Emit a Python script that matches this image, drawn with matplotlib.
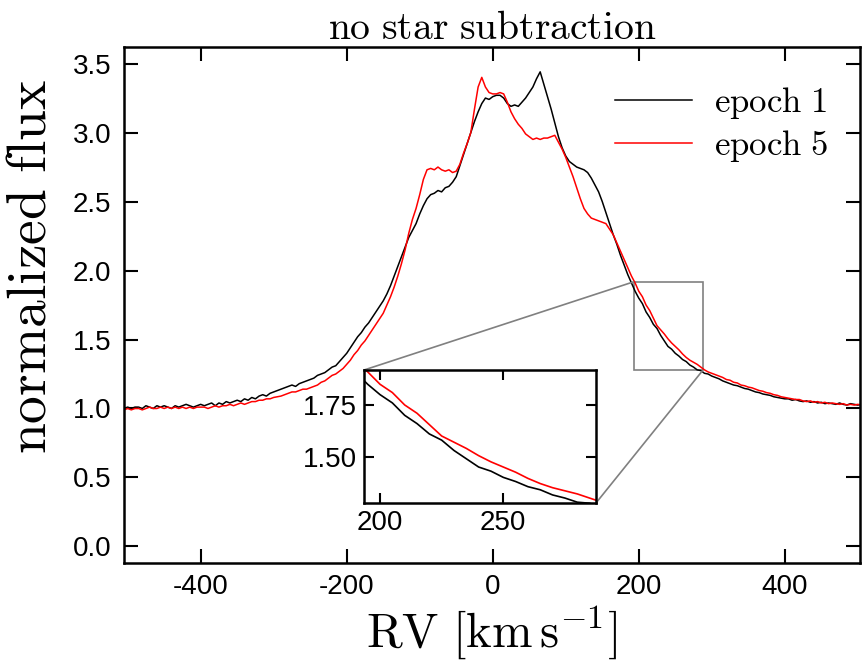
import numpy as np
import matplotlib
matplotlib.use("Agg")
import matplotlib.pyplot as plt
from mpl_toolkits.axes_grid1.inset_locator import mark_inset

plt.rcParams["mathtext.fontset"] = "cm"
plt.rcParams["font.family"] = ["Liberation Sans", "DejaVu Sans"]

# radial velocity grid [km/s]
rv = np.arange(-505, 506, 5)

flux_epoch1 = [
    1.00, 1.01, 1.00, 1.01, 1.01, 1.00, 1.02, 1.01, 1.00, 1.02, 1.01, 1.02, 1.01, 1.00, 1.02, 1.01, 1.02, 1.03, 1.02, 1.01, 1.02, 1.03,
    1.02, 1.03, 1.04, 1.02, 1.04, 1.03, 1.05, 1.04, 1.05, 1.06, 1.05, 1.07, 1.06, 1.08, 1.07, 1.09, 1.10, 1.09, 1.11, 1.12,
    1.13, 1.14, 1.15, 1.16, 1.17, 1.16, 1.18, 1.19, 1.20, 1.21, 1.22, 1.24, 1.25, 1.26, 1.28, 1.30, 1.31, 1.34, 1.37, 1.40,
    1.44, 1.48, 1.52, 1.55, 1.59, 1.62, 1.66, 1.70, 1.74, 1.78, 1.83, 1.89, 1.96, 2.03, 2.10, 2.17, 2.24, 2.29, 2.34, 2.41,
    2.47, 2.52, 2.55, 2.56, 2.58, 2.57, 2.60, 2.61, 2.64, 2.68, 2.76, 2.84, 2.92, 3.00, 3.08, 3.15, 3.21, 3.25, 3.24, 3.26,
    3.27, 3.27, 3.25, 3.21, 3.19, 3.20, 3.19, 3.22, 3.25, 3.29, 3.33, 3.39, 3.44, 3.35, 3.26, 3.17, 3.07, 2.97, 2.89, 2.83,
    2.79, 2.77, 2.75, 2.74, 2.73, 2.71, 2.67, 2.62, 2.57, 2.50, 2.42, 2.34, 2.26, 2.19, 2.11, 2.04, 1.97, 1.91, 1.85, 1.80,
    1.76, 1.70, 1.66, 1.61, 1.58, 1.53, 1.49, 1.45, 1.43, 1.40, 1.38, 1.355, 1.34, 1.315, 1.30, 1.28, 1.275, 1.255, 1.25, 1.235,
    1.225, 1.215, 1.20, 1.19, 1.18, 1.17, 1.165, 1.155, 1.145, 1.14, 1.13, 1.12, 1.115, 1.105, 1.10, 1.095, 1.085, 1.08, 1.075, 1.07,
    1.07, 1.06, 1.065, 1.055, 1.05, 1.055, 1.045, 1.05, 1.04, 1.045, 1.035, 1.04, 1.035, 1.03, 1.04, 1.03, 1.025, 1.035, 1.03, 1.025, 1.03,
]

flux_epoch5 = [
    0.99, 1.00, 0.99, 1.00, 1.00, 0.99, 1.00, 1.01, 1.00, 1.00, 1.01, 1.00, 1.01, 1.00, 1.01, 1.00, 1.01, 1.00, 1.01, 1.00, 1.01, 1.01,
    1.01, 1.00, 1.01, 1.02, 1.01, 1.02, 1.02, 1.03, 1.02, 1.03, 1.04, 1.03, 1.04, 1.05, 1.05, 1.06, 1.06, 1.07, 1.07, 1.08,
    1.085, 1.09, 1.10, 1.11, 1.12, 1.12, 1.13, 1.14, 1.14, 1.15, 1.16, 1.17, 1.19, 1.20, 1.22, 1.24, 1.25, 1.27, 1.29, 1.32,
    1.35, 1.39, 1.42, 1.46, 1.49, 1.53, 1.57, 1.61, 1.65, 1.69, 1.75, 1.81, 1.88, 1.96, 2.05, 2.15, 2.27, 2.37, 2.45, 2.55,
    2.66, 2.73, 2.74, 2.73, 2.75, 2.73, 2.72, 2.73, 2.71, 2.72, 2.77, 2.85, 2.92, 3.00, 3.17, 3.33, 3.40, 3.33, 3.29, 3.28,
    3.28, 3.29, 3.28, 3.22, 3.15, 3.10, 3.06, 3.03, 2.99, 2.97, 2.95, 2.96, 2.95, 2.96, 2.96, 2.97, 2.98, 2.93, 2.88, 2.82,
    2.75, 2.68, 2.60, 2.52, 2.45, 2.41, 2.38, 2.37, 2.36, 2.35, 2.34, 2.30, 2.26, 2.20, 2.14, 2.08, 2.02, 1.96, 1.91, 1.85,
    1.81, 1.75, 1.71, 1.655, 1.60, 1.57, 1.54, 1.505, 1.475, 1.45, 1.425, 1.395, 1.37, 1.35, 1.335, 1.32, 1.30, 1.28, 1.265, 1.255,
    1.245, 1.235, 1.225, 1.21, 1.205, 1.19, 1.185, 1.17, 1.165, 1.155, 1.15, 1.14, 1.13, 1.125, 1.115, 1.11, 1.10, 1.095, 1.085, 1.08,
    1.075, 1.07, 1.065, 1.065, 1.055, 1.05, 1.055, 1.045, 1.05, 1.04, 1.045, 1.035, 1.04, 1.035, 1.03, 1.035, 1.025, 1.03, 1.025, 1.03, 1.025,
]

series_labels = ["epoch 1", "epoch 5"]
series_colors = ["black", "red"]

main_xticks = [-400, -200, 0, 200, 400]
main_yticks = [0.0, 0.5, 1.0, 1.5, 2.0, 2.5, 3.0, 3.5]
inset_xticks = [200, 250]
inset_yticks = [1.50, 1.75]

fig = plt.figure(figsize=(8.63, 6.63), dpi=100)
ax = fig.add_axes([0.1437, 0.1508, 0.8528, 0.7783])

for y, lab, col in zip([flux_epoch1, flux_epoch5], series_labels, series_colors):
    ax.plot(rv, y, color=col, lw=1.1, label=r"$\mathrm{" + lab.replace(" ", r"\ ") + "}$")

ax.set_xlim(-505, 503)
ax.set_ylim(-0.12, 3.62)
ax.set_xticks(main_xticks)
ax.set_yticks(main_yticks)
ax.set_xticklabels([str(t) for t in main_xticks])
ax.set_yticklabels([f"{t:.1f}" for t in main_yticks])
ax.tick_params(direction="in", top=True, right=True, length=10, width=1.5,
               labelsize=20, pad=8)
ax.tick_params(axis="y", pad=9)
for s in ax.spines.values():
    s.set_linewidth(1.8)

ax.set_title(r"$\mathrm{no\ star\ subtraction}$", fontsize=28.5, pad=6)
ax.set_xlabel(r"$\mathrm{RV}\ [\mathrm{km\,s^{-1}}]$", fontsize=35, labelpad=2)
ax.set_ylabel(r"$\mathrm{normalized\ flux}$", fontsize=40)
ax.yaxis.set_label_coords(-0.090, 0.575)

leg = ax.legend(loc="upper right", bbox_to_anchor=(1.019, 1.014), frameon=False,
                fontsize=25, handlelength=2.2, handletextpad=0.65,
                borderaxespad=0.9, labelspacing=0.2)

# inset
axins = fig.add_axes([0.4218, 0.2413, 0.2688, 0.2006])
for y, col in zip([flux_epoch1, flux_epoch5], series_colors):
    axins.plot(rv, y, color=col, lw=1.2)
axins.set_xlim(193.5, 287.6)
axins.set_ylim(1.276, 1.919)
axins.set_xticks(inset_xticks)
axins.set_yticks(inset_yticks)
axins.set_yticklabels([f"{t:.2f}" for t in inset_yticks])
axins.tick_params(direction="in", top=True, right=True, length=7, width=1.5,
                  labelsize=20, pad=5)
for s in axins.spines.values():
    s.set_linewidth(1.8)

mark_inset(ax, axins, loc1=2, loc2=4, fc="none", ec="0.5", lw=1.2)

fig.savefig("out.png", dpi=100)
